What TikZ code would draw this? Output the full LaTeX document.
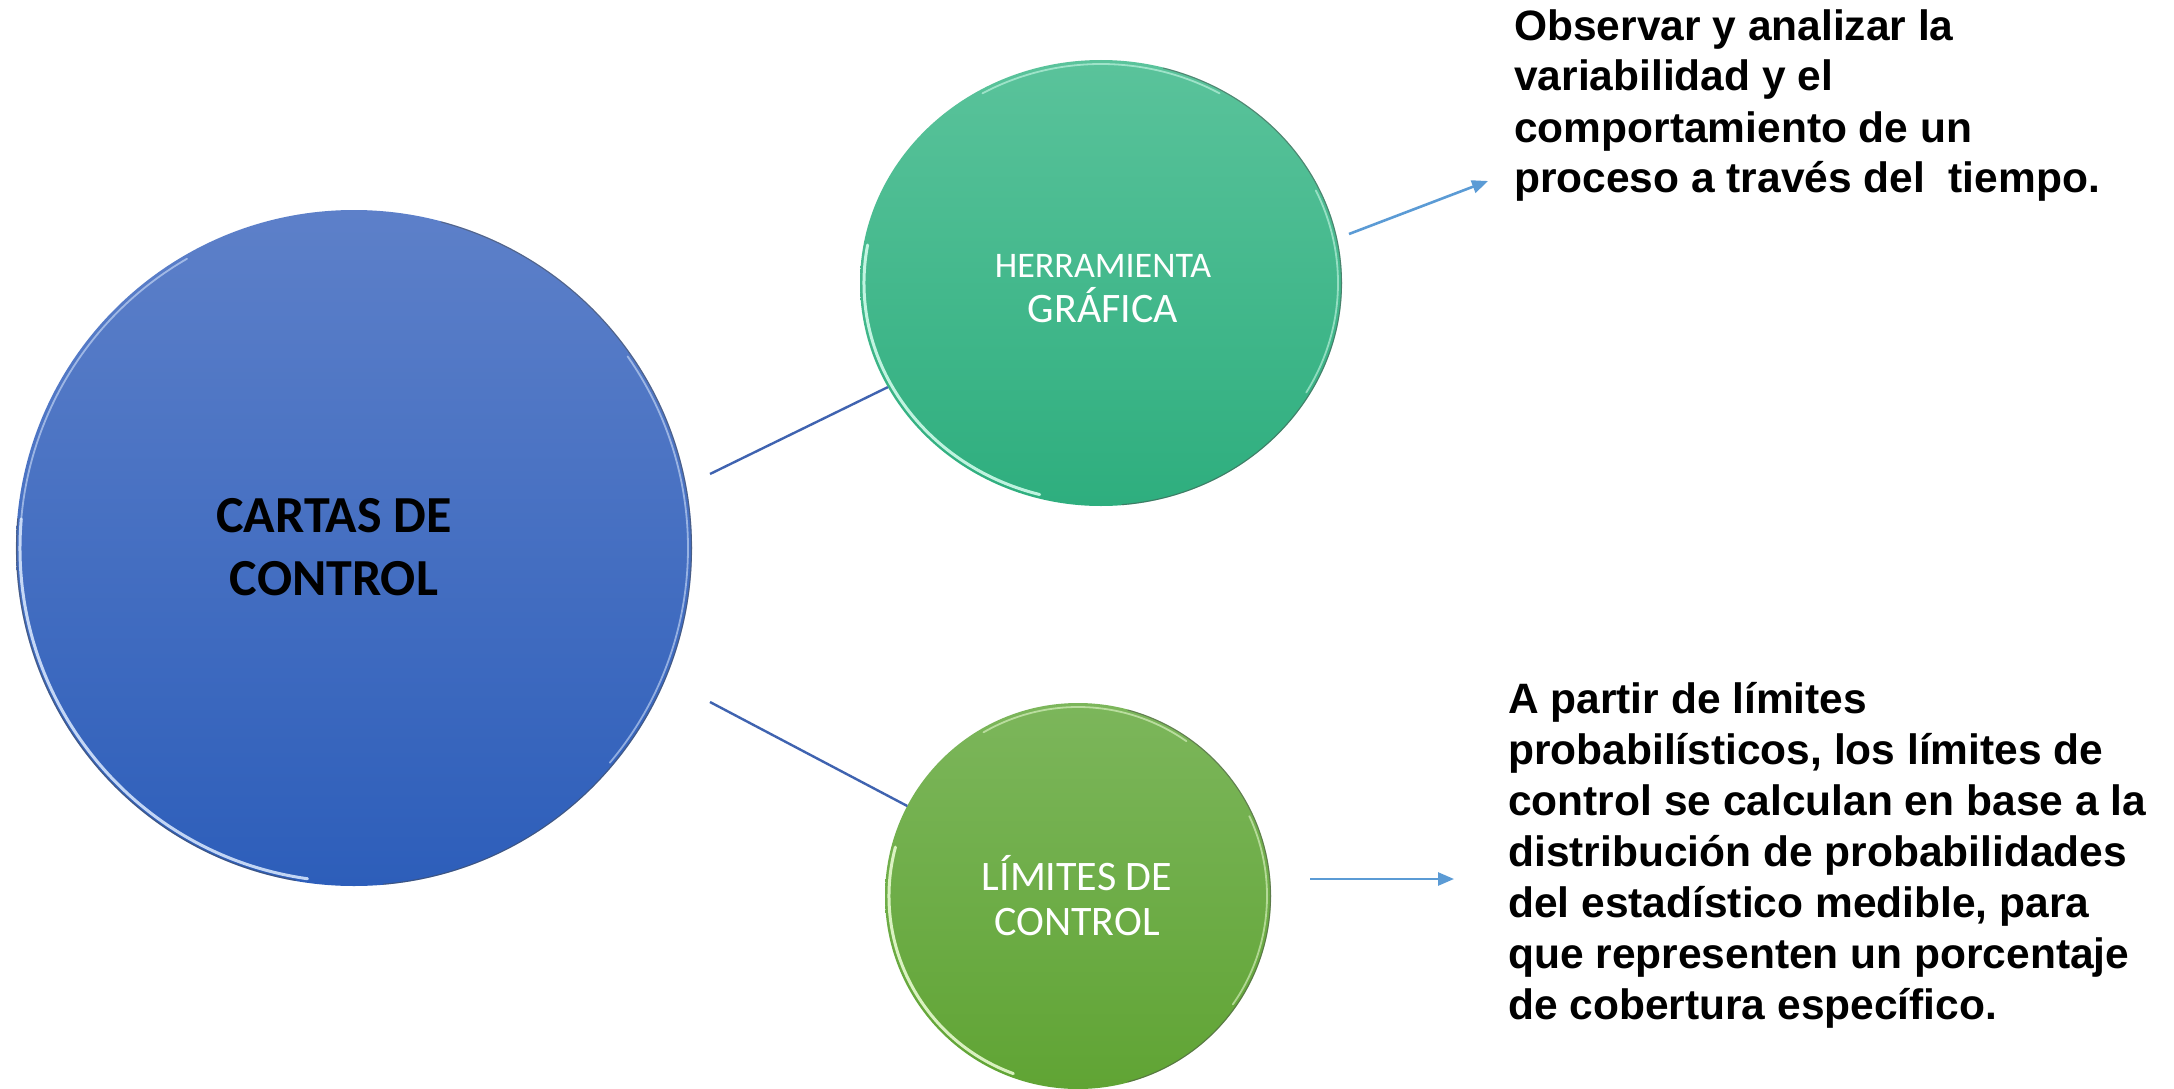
\documentclass[tikz,border=0pt]{standalone}
\usepackage{fontspec}
\setmainfont{Liberation Sans}
\newfontfamily\calibrifont{Carlito}
\usetikzlibrary{shapes.geometric,arrows.meta}

\definecolor{blueTop}{HTML}{5D80C9}
\definecolor{blueBot}{HTML}{2D5EBA}
\definecolor{blueRim}{HTML}{DDEBFF}
\definecolor{tealTop}{HTML}{5AC39B}
\definecolor{tealBot}{HTML}{2EAE7E}
\definecolor{tealRim}{HTML}{D8FFF0}
\definecolor{leafTop}{HTML}{7CB65B}
\definecolor{leafBot}{HTML}{60A434}
\definecolor{leafRim}{HTML}{EEFFD8}
\definecolor{linkBlue}{HTML}{3F63B0}
\definecolor{arrowBlue}{HTML}{5B9BD5}

\tikzset{
  bubble/.style={inner sep=0pt, outer sep=0pt, draw=none},
  rim/.style={line width=3pt, opacity=0.85, line cap=round},
  softrim/.style={line width=1.8pt, opacity=0.55, line cap=round},
  edgeshade/.style={line width=1.1pt, opacity=0.5, line cap=round, draw=black!70},
  link/.style={draw=linkBlue, line width=2.4pt},
  pointer/.style={draw=arrowBlue, line width=2.6pt,
    -{Triangle[length=16pt,width=13pt]}},
  bubbletext/.style={inner sep=0pt, anchor=base},
  note/.style={font=\bfseries\fontsize{42.5}{51}\selectfont, align=left,
    inner sep=0pt, anchor=base west, text=black},
}

\begin{document}
\begin{tikzpicture}[x=1pt,y=-1pt]
\useasboundingbox (0,0) rectangle (2174,1089);
\fill[white] (0,0) rectangle (2174,1089);

% main bubble with bevelled rim
\node[bubble, circle, minimum size=676pt, top color=blueTop, bottom color=blueBot] (cartas) at (354,548) {};
\draw[edgeshade] (354,548) ++(-85:337.5pt) arc[start angle=-85, end angle=75, radius=337.5pt];
\draw[edgeshade] (354,548) ++(175:337.5pt) arc[start angle=175, end angle=260, radius=337.5pt];
\draw[softrim, draw=blueRim] (354,548) ++(120:334pt) arc[start angle=120, end angle=175, radius=334pt];
\draw[rim, draw=blueRim] (354,548) ++(175:334pt) arc[start angle=175, end angle=262, radius=334pt];
\draw[softrim, draw=blueRim] (354,548) ++(-40:334pt) arc[start angle=-40, end angle=35, radius=334pt];

% upper bubble
\node[bubble, ellipse, minimum width=482pt, minimum height=446pt, top color=tealTop, bottom color=tealBot] (herr) at (1101,283) {};
\draw[edgeshade] (1101,283) ++(-85:240.5pt and 222.5pt) arc[start angle=-85, end angle=75, x radius=240.5pt, y radius=222.5pt];
\draw[softrim, draw=tealRim] (1101,283) ++(60:237pt and 219pt) arc[start angle=60, end angle=120, x radius=237pt, y radius=219pt];
\draw[rim, draw=tealRim] (1101,283) ++(170:237pt and 219pt) arc[start angle=170, end angle=255, x radius=237pt, y radius=219pt];
\draw[softrim, draw=tealRim] (1101,283) ++(-30:237pt and 219pt) arc[start angle=-30, end angle=25, x radius=237pt, y radius=219pt];

% lower bubble
\node[bubble, circle, minimum size=386pt, top color=leafTop, bottom color=leafBot] (lim) at (1078,896) {};
\draw[edgeshade] (1078,896) ++(-75:192.5pt) arc[start angle=-75, end angle=75, radius=192.5pt];
\draw[softrim, draw=leafRim] (1078,896) ++(55:189pt) arc[start angle=55, end angle=120, radius=189pt];
\draw[rim, draw=leafRim] (1078,896) ++(165:189pt) arc[start angle=165, end angle=250, radius=189pt];
\draw[softrim, draw=leafRim] (1078,896) ++(-35:189pt) arc[start angle=-35, end angle=25, radius=189pt];

% bubble labels
\node[bubbletext, font=\calibrifont\bfseries\fontsize{52}{62}\selectfont] (c1) at (334,532) {CARTAS DE};
\node[bubbletext, font=\calibrifont\bfseries\fontsize{52}{62}\selectfont] (c2) at (334,595) {CONTROL};
\node[bubbletext, text=white, font=\calibrifont\fontsize{36}{44}\selectfont] (h1) at (1103,277) {HERRAMIENTA};
\node[bubbletext, text=white, font=\calibrifont\fontsize{42}{50}\selectfont] (h2) at (1103,322) {GRÁFICA};
\node[bubbletext, text=white, font=\calibrifont\fontsize{42}{50}\selectfont] (l1) at (1077,890) {LÍMITES DE};
\node[bubbletext, text=white, font=\calibrifont\fontsize{42}{50}\selectfont] (l2) at (1077,935) {CONTROL};

% connectors
\coordinate (s1) at (710,474);
\coordinate (s2) at (710,702);
\draw[link] (s1) -- (herr);
\draw[link] (s2) -- (lim);

% descriptions (anchored at the baseline of their last line)
\node[note] (d1) at (1514,193) {Observar y analizar la\\variabilidad y el\\comportamiento de un\\proceso a través del\ \ tiempo.};
\node[note] (d2) at (1508,1019) {A partir de límites\\probabilísticos, los límites de\\control se calculan en base a la\\distribución de probabilidades\\del estadístico medible, para\\que representen un porcentaje\\de cobertura específico.};

% pointers
\coordinate (p1s) at (1349,234);
\coordinate (p1e) at (1488,181);
\coordinate (p2s) at (1310,879);
\coordinate (p2e) at (1454,879);
\draw[pointer] (p1s) -- (p1e);
\draw[pointer] (p2s) -- (p2e);
\end{tikzpicture}
\end{document}
